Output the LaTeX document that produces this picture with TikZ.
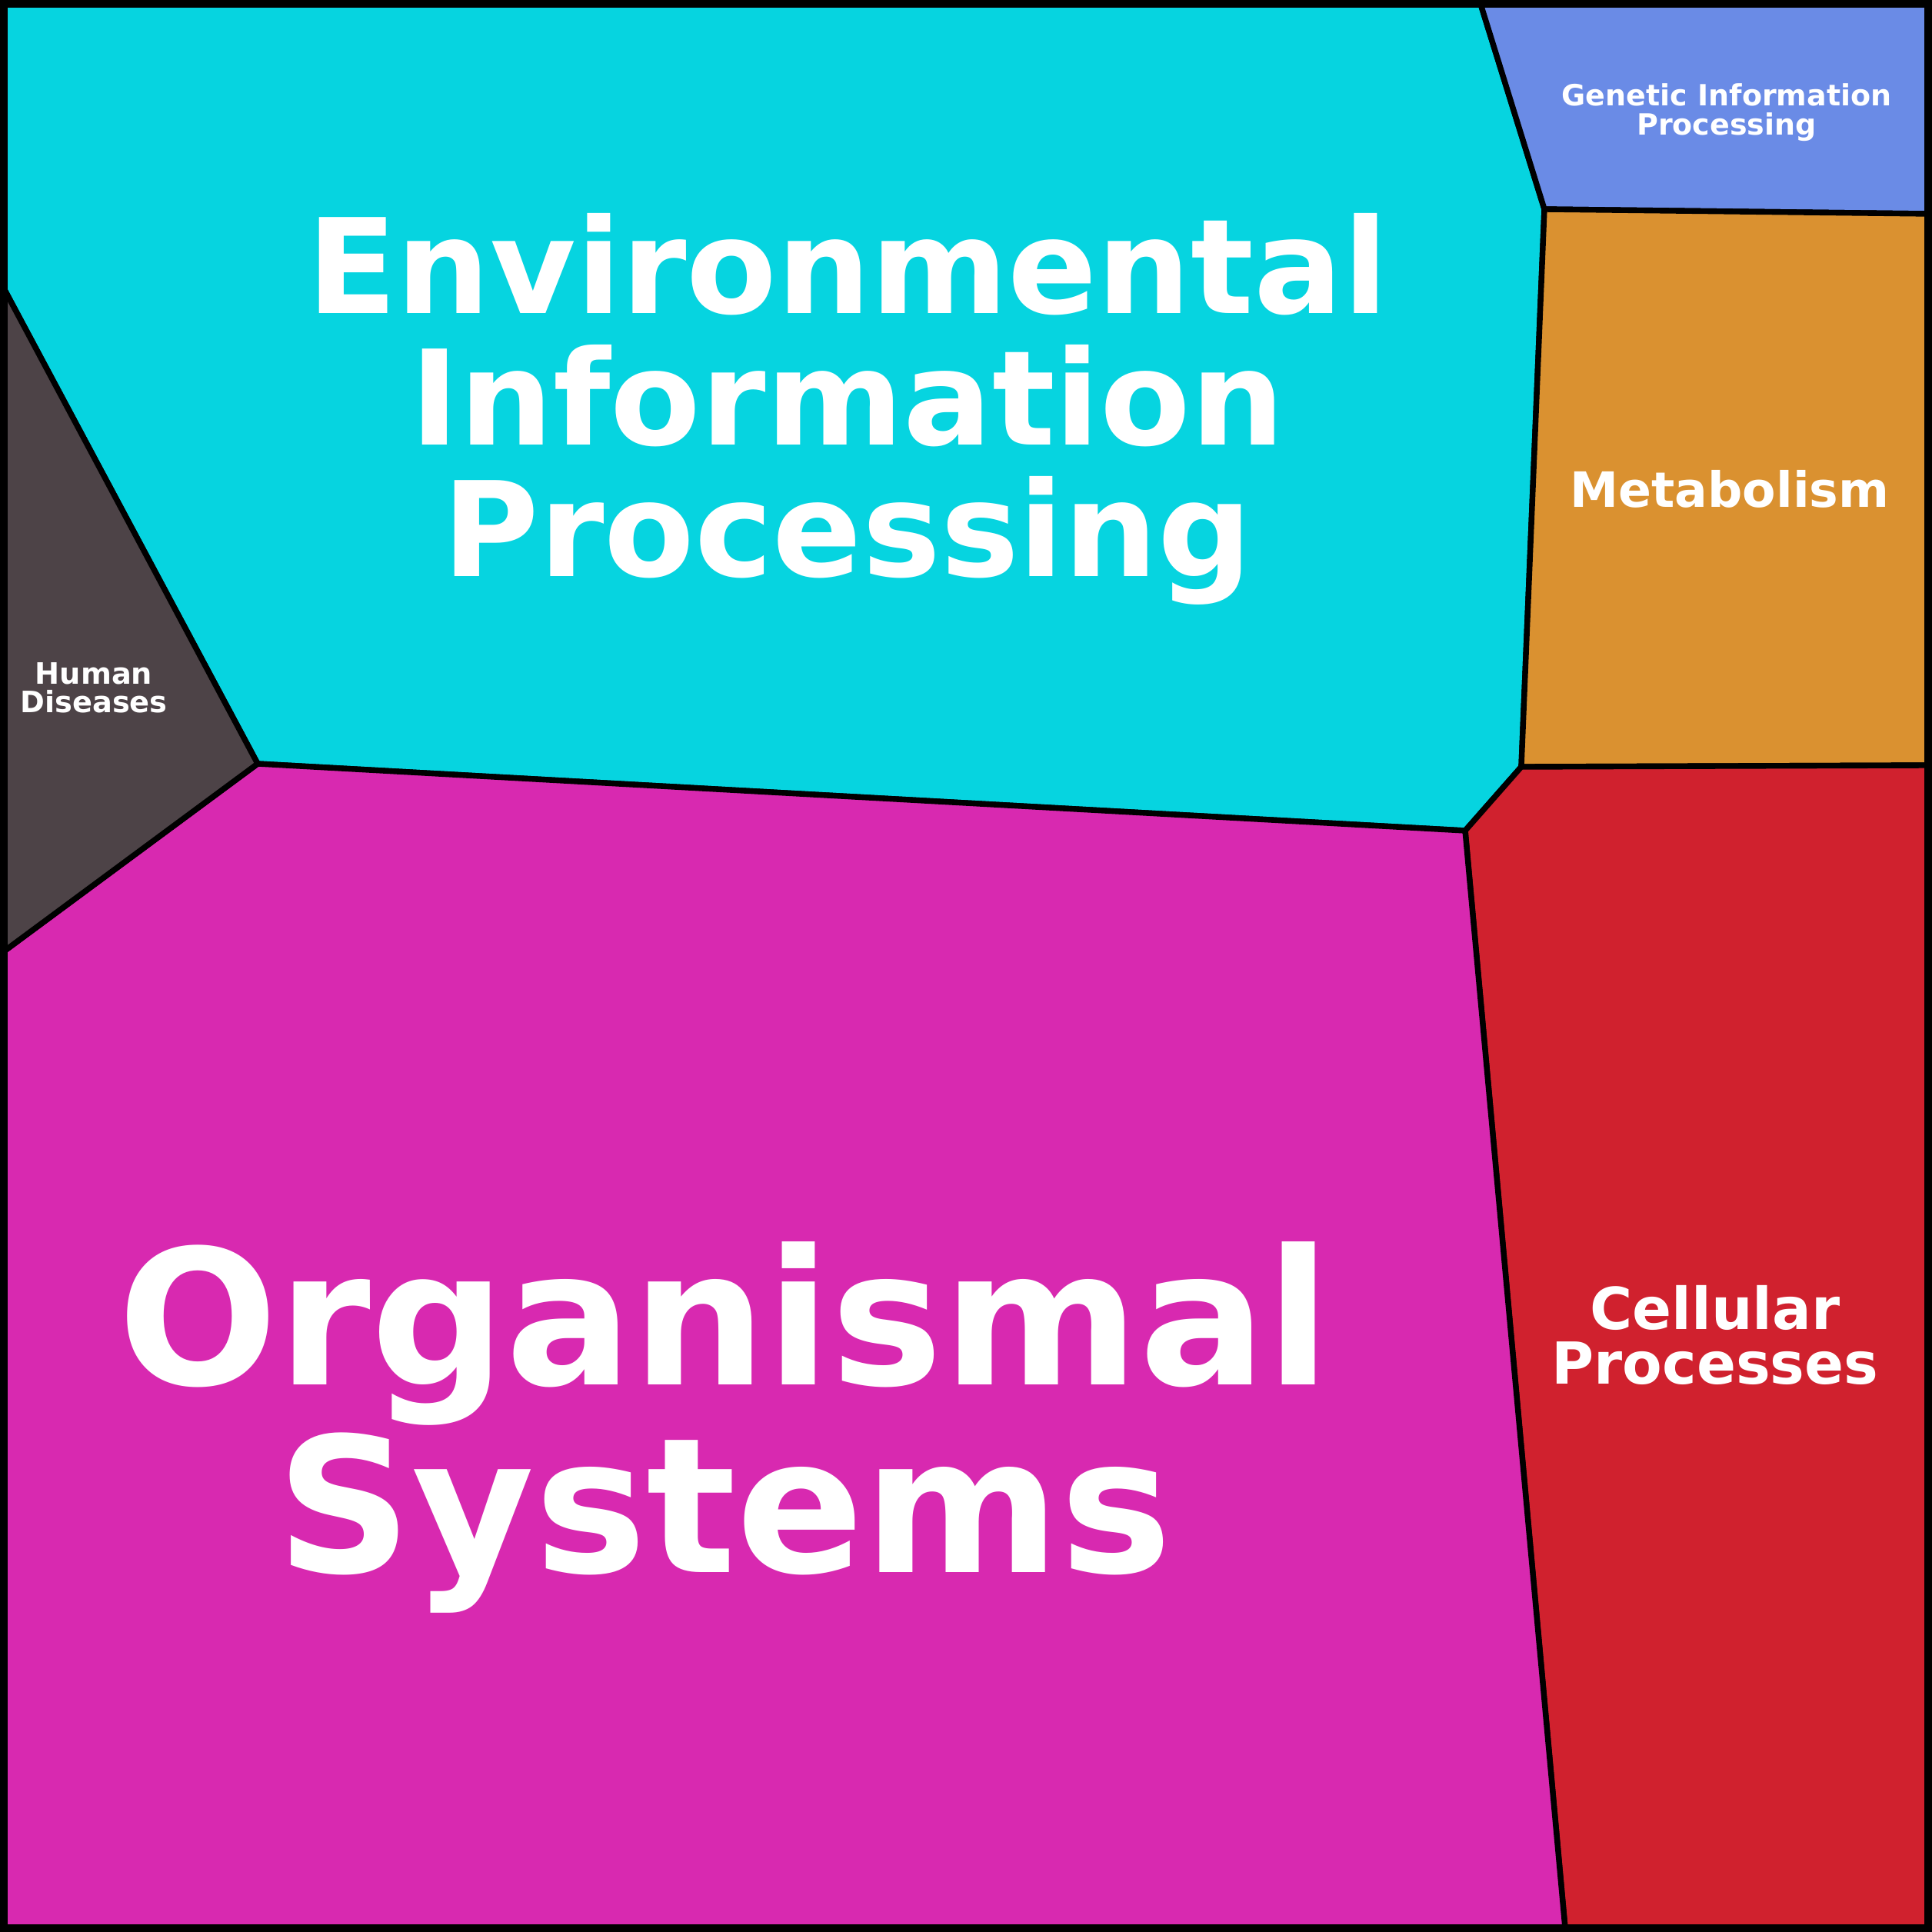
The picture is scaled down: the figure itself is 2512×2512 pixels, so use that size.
\documentclass[tikz,border=0pt]{standalone}
\usepackage{fontspec}
\setmainfont{DejaVu Sans}
\begin{document}
\begin{tikzpicture}[x=0.01cm,y=-0.01cm,
  cell/.style={draw=black,line width=2.1pt,line join=round},
  lab/.style={text=white,font=\bfseries,align=center,inner sep=0pt}]
\useasboundingbox (0,0) rectangle (2512,2512);
\fill[cell,fill={rgb,255:red,6;green,212;blue,224}] (5,5)--(1925,5)--(2008,272)--(1978,997)--(1905,1080)--(335,993)--(5,375)--cycle;
\fill[cell,fill={rgb,255:red,106;green,139;blue,230}] (1925,5)--(2507,5)--(2507,278)--(2008,272)--cycle;
\fill[cell,fill={rgb,255:red,218;green,145;blue,48}] (2008,272)--(2507,278)--(2507,995)--(1978,997)--cycle;
\fill[cell,fill={rgb,255:red,208;green,33;blue,46}] (1978,997)--(2507,995)--(2507,2507)--(2035,2507)--(1905,1080)--cycle;
\fill[cell,fill={rgb,255:red,216;green,41;blue,176}] (335,993)--(1905,1080)--(2035,2507)--(5,2507)--(5,1237)--cycle;
\fill[cell,fill={rgb,255:red,77;green,67;blue,71}] (5,375)--(335,993)--(5,1237)--cycle;
\draw[line width=3pt] (5,5) rectangle (2507,2507);
\node[lab,font=\bfseries\fontsize{48.7}{48.7}\selectfont] (env) at (1102,532) {Environmental\\Information\\Processing};
\node[lab,font=\bfseries\fontsize{69.6}{69.2}\selectfont] (org) at (942,1856) {Organismal\\Systems};
\node[lab,font=\bfseries\fontsize{21.4}{20}\selectfont] (cel) at (2230,1736) {Cellular\\Processes};
\node[lab,font=\bfseries\fontsize{18}{22}\selectfont] (met) at (2249,636) {Metabolism};
\node[lab,font=\bfseries\fontsize{10.8}{10.8}\selectfont] (gen) at (2245,146) {Genetic Information\\Processing};
\node[lab,font=\bfseries\fontsize{10.9}{10.6}\selectfont] (hum) at (122,894) {Human\\Diseases};
\end{tikzpicture}
\end{document}
